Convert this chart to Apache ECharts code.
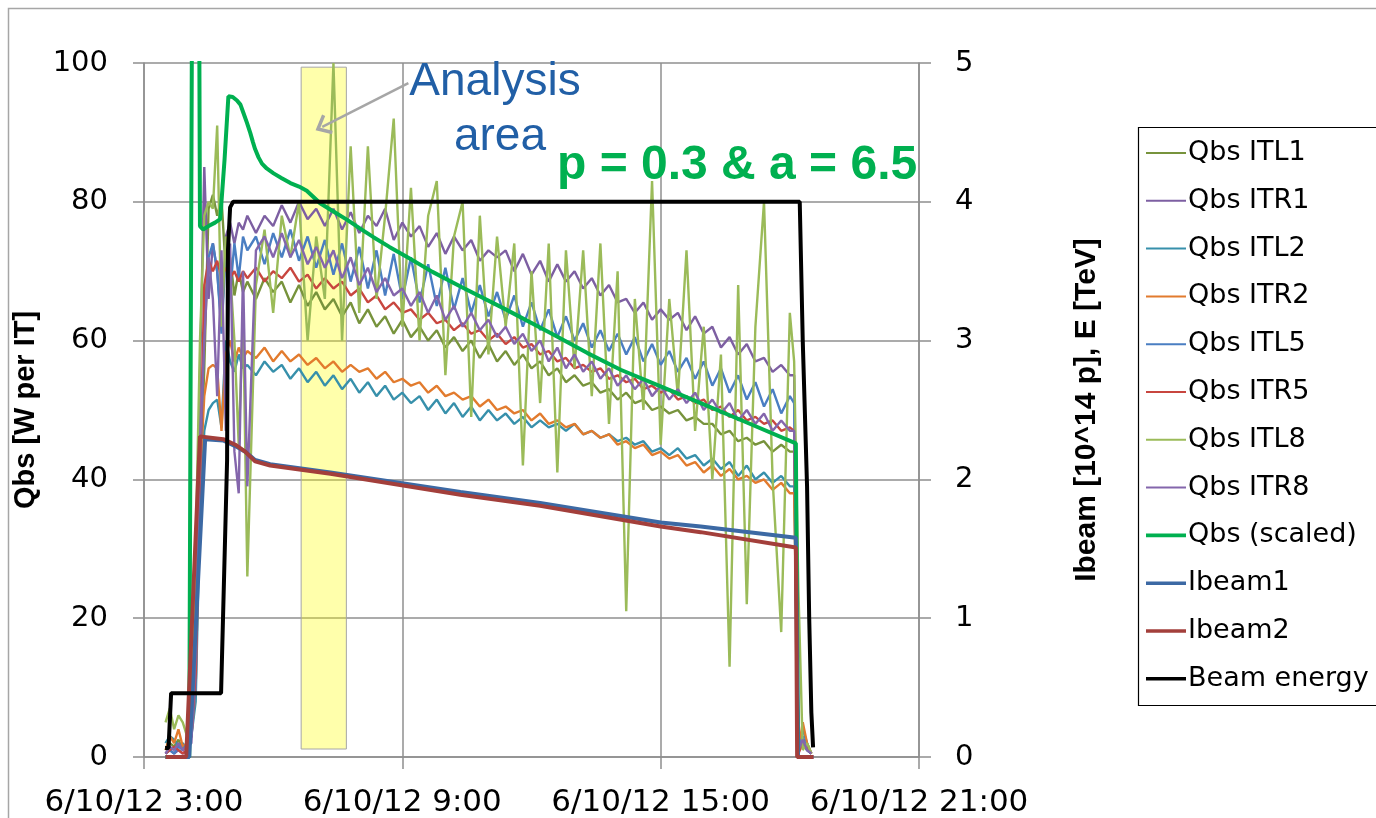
<!DOCTYPE html>
<html>
<head>
<meta charset="utf-8">
<script src="https://cdn.jsdelivr.net/npm/echarts@6/dist/echarts.min.js"></script>
<style>html,body{margin:0;padding:0;background:#fff;}#chart{width:1376px;height:818px;}</style>
</head>
<body>
<div id="chart"></div>
<script>
// ---- shared time grid (hours of 6/10/12) for the per-IT Qbs series ----
const qbsTimes = [3.5,3.6,3.7,3.8,3.9,4.0,4.1,4.2,4.3,4.4,4.5,4.6,4.7,4.8,4.9,5.0,5.1,5.2,5.3,
 5.4,5.6,5.8,6.0,6.2,6.4,6.6,6.8,7.0,7.2,
 7.4,7.6,7.8,8.0,8.2,8.4,8.6,8.8,9.0,9.2,
 9.4,9.6,9.8,10.0,10.2,10.4,10.6,10.8,11.0,11.2,
 11.4,11.6,11.8,12.0,12.2,12.4,12.6,12.8,13.0,13.2,
 13.4,13.6,13.8,14.0,14.2,14.4,14.6,14.8,15.0,15.2,
 15.4,15.6,15.8,16.0,16.2,16.4,16.6,16.8,17.0,17.2,
 17.4,17.6,17.8,18.0,
 18.1,18.2,18.3,18.4,18.5];

const qbsITL1 = [1,2,1.5,2.5,1,2,4,15,40,56,79,81,78,80.5,70,72,66.5,70,67,
 68.5,66,69,67,68.5,65.5,68,65,67,64.5,
 66,63.5,65.5,62.5,64.5,62,63.5,61,63,60.5,
 62,60,61.5,59,60.5,58.5,60,57.5,59.5,57,
 58.5,56.5,58,56,57,55,56,54,55,53.5,
 54,52.5,53,51.5,52.5,51,51.5,50,50.5,49.5,
 50,48.5,49,48,48,46.5,47,45.5,46,45,
 45.5,44,45,44,
 44,1,2.5,1,0.5];

const qbsITR1 = [0.5,1,0.5,1,0.5,1,3,20,55,85,66,74,70,62,75,77,74,77,76,
 78,75.5,78,76.5,79.5,77,80,77.5,79,76.5,
 79,76,78.5,75.5,78,76.5,79,74.5,77,75,
 76.5,73.5,75.5,72.5,75,73,74.5,71.5,73,72,
 73,70,72.5,69.5,71.5,68.5,71,68.5,70,67.5,
 69,66.5,68,65.5,66,64,65.5,63,64.5,63,
 64,61.5,63.5,61,62,59,60.5,58,59.5,57,
 57.5,55.5,56.5,55,
 55,1.5,2,1,0.5];

const qbsITL2 = [2,3,2.5,1.5,2,1,3,8,35,47,50,51,51.5,47.5,60,57,55.5,58,56,
 56.5,55,57,55.5,56.5,54.5,56,54,55.5,53.5,
 55,53,54.5,52.5,54,52,53.5,51.5,52.5,51,
 52,50,51.5,49.5,51,49,50.5,48.5,50,48.5,
 49.5,48,49,47.5,48.5,47.5,48,47,48,46.5,
 47,46,46.5,45.5,46,45,45.5,44,44.5,43.5,
 44.5,43,43.5,42,43,41.5,42.5,40.5,42,40,
 41,39.5,40.5,39,
 39,1.5,4,2,0.5];

const qbsITR2 = [1,3,2,4,1.5,2,3,10,40,52,56,56.5,56,47,58,60,57,59,57.5,
 58.5,57.5,59,57,58.5,57,58,56.5,57.5,56,
 57,55.5,56.5,55.5,56,54.5,55.5,54,54.5,53.5,
 54,52.5,53.5,52,52.5,51.5,52,50.5,51.5,50,
 50.5,49.5,50,48.5,49.5,48,48.5,47.5,48,46.5,
 47,46,46.5,45,45.5,44.5,45,43.5,44,43,
 43.5,42,42.5,41,42,40.5,41.5,40,40.5,39.5,
 40,38.5,39.5,38,
 38,1,5,2,0.5];

const qbsITL5 = [0.5,1,0.5,1.5,1,2,3,10,40,62,72,74,70,61,73,67,74,69,75,
 73,75,71,75.5,72,76,71.5,75,70.5,74.5,
 69.5,74,68.5,73.5,67.5,73,66.5,72.5,66,72,
 65.5,71,65,70.5,64.5,69,64,68,63.5,67,
 63,66.5,62,65.5,61.5,64.5,60.5,63.5,60,62.5,
 59,61.5,58.5,61,58,60.5,57,59.5,56.5,58.5,
 55.5,57.5,54.5,57,53.5,56,52.5,55,51.5,54,
 50.5,53,49.5,52,
 51,1,3,1,0.5];

const qbsITR5 = [0.5,1,1.5,1,0.5,1,3,12,40,68,71.5,70,71.5,69,70.5,69,70,68.5,70,
 69,70.5,68.5,70,69,70.5,68.5,69.5,67.5,69,
 67.5,68.5,66.5,67.5,65.5,66.5,64.5,65.5,64,64.5,
 63,64,62.5,63,61.5,62.5,61,61.5,60,61,
 59.5,60.5,59,59.5,58,58.5,57,57.5,56,56.5,
 55.5,56,54.5,55,54,54.5,53,53.5,52.5,53,
 51.5,52,51,51.5,50,50.5,49,50,48.5,49,
 48,48.5,47,47.5,
 47,0.5,2,1.5,0.5];

const qbsITL8 = [5,7,4,6,5,3,8,30,60,78,80,79,91,62,75,70,60,45,64,
 26,68,76,64,78,72,80,60,75,66,
 100,60,88,64,88,66,78,92,62,82,
 60,78,83,55,75,80,49,78,58,75,
 62,74,42,70,51,74,41,73,56,73,
 52,74,48,70,21,66,50,83,45,66,
 52,73,47,62,40,58,13,68,22,62,
 80,40,18,64,
 57,24,1,2,0.5];

const qbsITR8 = [0.5,1.5,1,2,1,1.5,2,15,45,60,72,66,52,73,47,74,44,38,70,
 39,73,75,72,75.5,72,74.5,71,73.5,70.5,
 73,69,72,68,70.5,67,69,66.5,67.5,65,
 67,64,66.5,63,65,62,64,61.5,63,60.5,
 62,59.5,61,58.5,60,57,59,56,58,55.5,
 57,54.5,56,53.5,55,53,54.5,52,53.5,51.5,
 53,51,52.5,50,51.5,49.5,51,48.5,50,48,
 49.5,47,48.5,47,
 47,1,2.5,1,0.5];

// Qbs (scaled) fit, p = 0.3 & a = 6.5
const scaledTimes = [3.5,4.05,4.2,4.3,4.37,4.5,4.65,4.77,4.87,4.96,5.06,5.16,5.24,5.31,5.39,5.47,5.53,5.58,5.66,5.74,5.85,6.01,6.2,6.4,6.6,6.78,7.09,7.4,7.72,8.03,8.33,8.7,9.12,9.7,10.35,11.4,12.44,13.3,14.07,15.0,15.93,17.0,18.14,18.19,18.51];
const qbsScaled   = [0,0,250,76.5,76,76.5,77,77.5,86,95.2,95.1,94.6,94,92.8,91.4,89.9,88.6,87.6,86.4,85.5,84.8,84.1,83.4,82.7,82.2,81.6,79.8,78.6,77.4,76.1,74.9,73.5,72,69.9,67.8,64.5,61.1,58.2,55.8,53.4,51,48.2,45.2,0,0];

// beam intensities [10^14 p] (right axis)
const ibeam1Times = [3.5,4.05,4.42,4.84,5.12,5.35,5.58,5.93,7.33,10.35,12.2,15.0,15.93,18.14,18.19,18.55];
const ibeam1      = [0,0,2.29,2.28,2.24,2.20,2.14,2.11,2.05,1.91,1.83,1.69,1.66,1.58,0,0];
const ibeam2Times = [3.5,3.98,4.30,4.84,5.12,5.35,5.58,5.93,7.33,10.35,12.2,15.0,15.93,18.14,18.17,18.55];
const ibeam2      = [0,0,2.31,2.29,2.25,2.20,2.13,2.10,2.04,1.89,1.81,1.66,1.62,1.51,0,0];

// beam energy [TeV] (right axis)
const energyTimes = [3.49,3.57,3.63,4.79,4.93,4.95,5.0,5.07,18.23,18.3,18.4,18.45,18.5,18.54];
const beamEnergy  = [0.065,0.065,0.46,0.46,2.14,3.65,3.96,4.0,4.0,3.0,1.95,1.0,0.32,0.07];

// analysis window [hours] and arrow annotation
const analysisArea = {from: 6.65, to: 7.70, bottom: 1.15, top: 99.4};
const arrowFrom = [9.14, 97.1];
const arrowTo = [7.14, 90.8];

const xTicks = {min: 3, max: 21, step: 6};
const datePrefix = '6/10/12 ';
const leftTicks = {min: 0, max: 100, step: 20};
const rightTicks = {min: 0, max: 5, step: 1};

function pairs(t, v){ return t.map((x,i)=>[x, v[i]]); }

const thin = [
  ['Qbs ITL1', qbsITL1, '#77933C'],
  ['Qbs ITR1', qbsITR1, '#7D5FA2'],
  ['Qbs ITL2', qbsITL2, '#3790AB'],
  ['Qbs ITR2', qbsITR2, '#E27B2E'],
  ['Qbs ITL5', qbsITL5, '#4A7EC2'],
  ['Qbs ITR5', qbsITR5, '#C8463F'],
  ['Qbs ITL8', qbsITL8, '#9BBB59'],
  ['Qbs ITR8', qbsITR8, '#8466AC']
];

const series = thin.map(([name, vals, color]) => ({
  name, type: 'line', xAxisIndex: 0, yAxisIndex: 0,
  data: pairs(qbsTimes, vals), symbol: 'none', clip: true,
  lineStyle: {width: 2.4, color}, itemStyle: {color}
}));
series.push({name: 'Qbs (scaled)', type: 'line', yAxisIndex: 0, data: pairs(scaledTimes, qbsScaled),
  symbol: 'none', clip: true, lineStyle: {width: 4, color: '#00B050'}, itemStyle: {color: '#00B050'}, z: 3});
series.push({name: 'Ibeam1', type: 'line', yAxisIndex: 1, data: pairs(ibeam1Times, ibeam1),
  symbol: 'none', lineStyle: {width: 4, color: '#3C69A4'}, itemStyle: {color: '#3C69A4'}, z: 3});
series.push({name: 'Ibeam2', type: 'line', yAxisIndex: 1, data: pairs(ibeam2Times, ibeam2),
  symbol: 'none', lineStyle: {width: 4, color: '#A33F3B'}, itemStyle: {color: '#A33F3B'}, z: 3});
series.push({name: 'Beam energy', type: 'line', yAxisIndex: 1, data: pairs(energyTimes, beamEnergy),
  symbol: 'none', lineStyle: {width: 4, color: '#000000'}, itemStyle: {color: '#000000'}, z: 3});
// annotation holder: analysis area + arrow
series.push({name: 'annot', type: 'line', yAxisIndex: 0, data: [], z: 6, silent: true,
  markArea: {silent: true, itemStyle: {color: 'rgba(255,255,0,0.33)', borderColor: '#A6A6A6', borderWidth: 1},
    data: [[{coord: [analysisArea.from, analysisArea.top]}, {coord: [analysisArea.to, analysisArea.bottom]}]]},
  markLine: {silent: true, symbol: ['none', 'path://M10,0 L20,12 L17.5,14 L10,5 L2.5,14 L0,12 Z'], symbolSize: [22, 15],
    label: {show: false}, lineStyle: {color: '#A6A6A6', width: 2.5, type: 'solid'},
    data: [[{coord: arrowFrom}, {coord: arrowTo}]]}
});

const legendNames = ['Qbs ITL1','Qbs ITR1','Qbs ITL2','Qbs ITR2','Qbs ITL5','Qbs ITR5','Qbs ITL8','Qbs ITR8','Qbs (scaled)','Ibeam1','Ibeam2','Beam energy'];
const thinIcon = 'path://M0,0H40V2H0Z';
const thickIcon = 'path://M0,0H40V3.6H0Z';

const gridColor = '#8F8F8F';
const chart = echarts.init(document.getElementById('chart'), null, {renderer: 'canvas'});
chart.setOption({
  animation: false,
  backgroundColor: '#ffffff',
  grid: {left: 144, right: 457, top: 63, bottom: 61, containLabel: false},
  xAxis: {type: 'value', min: xTicks.min, max: xTicks.max, interval: xTicks.step,
    axisLine: {show: true, lineStyle: {color: gridColor, width: 1.5}, onZero: false},
    axisTick: {show: true, inside: false, length: 12, lineStyle: {color: gridColor, width: 1.5}},
    splitLine: {show: true, lineStyle: {color: gridColor, width: 1.5}},
    axisLabel: {margin: 30, fontFamily: 'DejaVu Sans', fontSize: 31, color: '#000',
      formatter: v => datePrefix + v + ':00'}},
  yAxis: [
    {type: 'value', position: 'left', min: leftTicks.min, max: leftTicks.max, interval: leftTicks.step,
      name: 'Qbs [W per IT]', nameLocation: 'middle', nameGap: 104, nameRotate: 90,
      nameTextStyle: {fontFamily: 'Liberation Sans', fontWeight: 'bold', fontSize: 29, color: '#000'},
      axisLine: {show: true, lineStyle: {color: gridColor, width: 1.5}},
      axisTick: {show: true, length: 11, lineStyle: {color: gridColor, width: 1.5}},
      splitLine: {show: true, lineStyle: {color: gridColor, width: 1.5}},
      axisLabel: {margin: 36, fontFamily: 'DejaVu Sans', fontSize: 29, color: '#000'}},
    {type: 'value', position: 'right', min: rightTicks.min, max: rightTicks.max, interval: rightTicks.step,
      name: 'Ibeam [10^14 p], E [TeV]', nameLocation: 'middle', nameGap: 153, nameRotate: 90,
      nameTextStyle: {fontFamily: 'Liberation Sans', fontWeight: 'bold', fontSize: 30, color: '#000'},
      axisLine: {show: true, lineStyle: {color: gridColor, width: 1.5}},
      axisTick: {show: true, length: 12, lineStyle: {color: gridColor, width: 1.5}},
      splitLine: {show: false},
      axisLabel: {margin: 36, fontFamily: 'DejaVu Sans', fontSize: 29, color: '#000'}}
  ],
  legend: {orient: 'vertical', left: 1146, top: 138, padding: 0, itemWidth: 40, itemHeight: 14, itemGap: 17.8,
    selectedMode: false,
    data: legendNames.map((n, i) => ({name: n, icon: i < 8 ? thinIcon : thickIcon})),
    textStyle: {fontFamily: 'DejaVu Sans', fontSize: 27, color: '#000', lineHeight: 30, padding: [0,0,0,-3]}},
  graphic: [
    {type: 'rect', z: -10, shape: {x: 8.5, y: 8.5, width: 1500, height: 1000}, style: {fill: null, stroke: '#A6A6A6', lineWidth: 1.5}, silent: true},
    {type: 'rect', z: -5, shape: {x: 1138.5, y: 127.5, width: 400, height: 578}, style: {fill: '#fff', stroke: '#000', lineWidth: 1.2}, silent: true},
    {type: 'text', z: 20, x: 495, y: 82, style: {text: 'Analysis', font: '46px "Liberation Sans"', fill: '#215FA6', textAlign: 'center', textVerticalAlign: 'middle'}, silent: true},
    {type: 'text', z: 20, x: 500, y: 137, style: {text: 'area', font: '46px "Liberation Sans"', fill: '#215FA6', textAlign: 'center', textVerticalAlign: 'middle'}, silent: true},
    {type: 'text', z: 20, x: 557, y: 166, style: {text: 'p = 0.3 & a = 6.5', font: 'bold 48px "Liberation Sans"', fill: '#00B050', textAlign: 'left', textVerticalAlign: 'middle'}, silent: true}
  ],
  series
});
</script>
</body>
</html>
